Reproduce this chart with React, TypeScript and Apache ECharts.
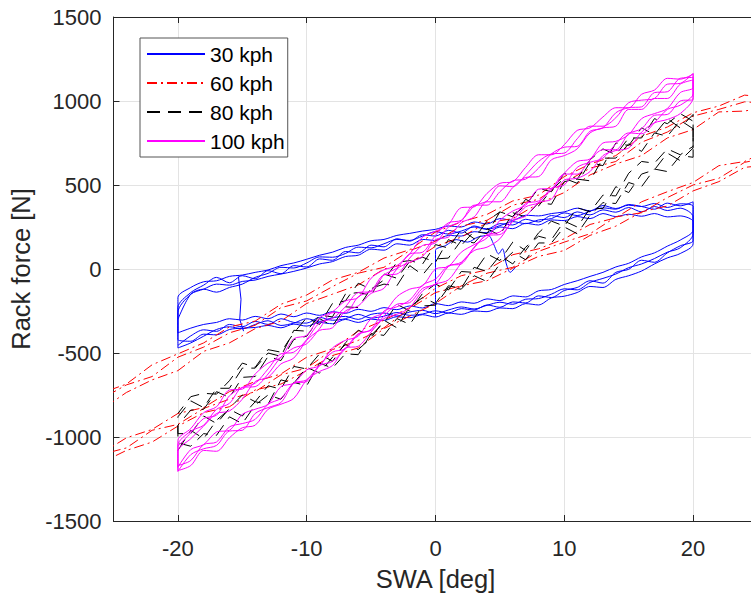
import React, { useEffect, useRef } from "react";
import * as echarts from "echarts";

const legendNames = ["30 kph", "60 kph", "80 kph", "100 kph"];
const xTickValues = [-20, -10, 0, 10, 20];

// steering-angle sample grids (deg)
const swa20 = [-20,-19,-18,-17,-16,-15,-14,-13,-12,-11,-10,-9,-8,-7,-6,-5,-4,-3,-2,-1,0,1,2,3,4,5,6,7,8,9,10,11,12,13,14,15,16,17,18,19,20];
const swa28 = [-28,-26,-24,-22,-20,-18,-16,-14,-12,-10,-8,-6,-4,-2,0,2,4,6,8,10,12,14,16,18,20,22,24,26,28];

// 30 kph: rack force on increasing sweep (Up, -20..20) and decreasing sweep (Down, 20..-20)
const b1Up = [-455,-398,-362,-371,-330,-344,-312,-330,-296,-318,-322,-288,-305,-296,-270,-292,-281,-259,-276,-268,-249,-262,-236,-244,-214,-228,-196,-202,-160,-170,-128,-110,-70,-84,-20,-2,52,40,96,138,170];
const b1Down = [310,362,348,372,340,366,338,352,322,340,306,318,280,296,262,270,238,256,214,230,196,204,166,180,132,142,96,104,52,60,12,20,-28,-10,-58,-40,-82,-50,-96,-140,-230];
const b2Up = [-420,-430,-388,-392,-360,-352,-348,-336,-350,-328,-340,-318,-326,-300,-318,-298,-306,-284,-290,-272,-286,-262,-270,-250,-254,-232,-236,-206,-214,-172,-162,-140,-104,-110,-62,-40,-12,30,66,92,150];
const b2Down = [372,388,366,390,372,380,360,378,346,362,340,330,316,320,290,300,268,280,250,256,236,226,212,200,176,168,142,128,100,82,58,36,20,-6,-20,-36,-44,-70,-76,-110,-170];
const b3Up = [-380,-352,-330,-318,-296,-304,-282,-296,-268,-284,-262,-276,-254,-264,-240,-252,-230,-242,-220,-232,-206,-218,-196,-204,-178,-188,-160,-166,-130,-122,-92,-70,-44,-20,12,34,72,96,136,172,230];
const b3Down = [282,316,310,330,314,326,312,330,300,312,288,292,262,272,240,250,216,222,196,200,170,176,142,150,112,118,82,74,44,30,6,-14,-30,-44,-66,-74,-96,-90,-120,-150,-260];
const b4Up = [-470,-440,-400,-360,-344,-356,-330,-308,-336,-322,-296,-312,-290,-282,-300,-270,-262,-280,-256,-246,-266,-244,-226,-238,-216,-198,-210,-180,-176,-150,-118,-124,-80,-56,-30,8,30,62,100,126,210];
const b4Down = [400,376,392,356,372,384,356,364,344,318,334,300,292,270,282,258,236,250,226,208,222,196,170,176,150,126,130,92,70,72,36,6,10,-26,-50,-90,-110,-138,-120,-150,-300];
const bStartSwa = [0,0,0,0.8,1.6,2.5,3.3,4.1,4.5,4.9,5.2,5.5,5.8,6.2];
const bStartForce = [-285,-100,110,140,175,160,190,200,150,90,120,30,-20,10];
const bJumpSwa = [-15.3,-15.1,-15.2,-14.9];
const bJumpForce = [-45,-180,-300,-370];

// 60 kph (grid swa28)
const r1Up = [-1190,-1105,-1065,-960,-925,-830,-775,-730,-630,-590,-480,-425,-350,-235,-140,-100,-25,10,105,160,210,310,335,425,500,540,635,665,720];
const r1Down = [1020,985,995,950,910,815,755,640,600,515,415,380,290,255,165,110,10,-25,-105,-190,-230,-335,-380,-465,-525,-640,-690,-775,-865];
const r2Up = [-1140,-1100,-1005,-955,-860,-825,-730,-670,-625,-525,-475,-370,-305,-230,-115,-40,-5,85,120,180,265,305,400,460,515,615,640,715,740];
const r2Down = [955,970,940,935,830,780,675,625,560,455,390,300,275,190,135,35,0,-95,-150,-205,-310,-355,-440,-490,-605,-660,-735,-840,-875];
const r3Up = [-1195,-1155,-1080,-1030,-935,-855,-820,-720,-685,-605,-515,-470,-355,-280,-205,-100,-70,5,75,110,200,255,340,375,465,520,605,620,690];
const r3Down = [1045,1020,1035,970,930,845,790,675,625,550,440,405,325,280,220,115,65,-20,-65,-155,-210,-310,-345,-440,-505,-570,-685,-740,-825];

// 80 kph
const k1Up = [-1080,-960,-1010,-900,-835,-875,-790,-805,-660,-680,-585,-620,-525,-450,-480,-410,-305,-350,-225,-170,-205,-100,-115,10,-15,80,30,130,195,175,285,250,360,360,490,455,565,590,690,645,720];
const k1Down = [920,840,895,800,840,735,750,615,635,510,540,470,375,415,310,340,210,225,140,175,40,70,45,-55,-30,-155,-140,-150,-285,-275,-370,-365,-520,-500,-590,-590,-710,-710,-825,-785,-880];
const k2Up = [-980,-980,-875,-920,-830,-750,-790,-695,-715,-580,-595,-505,-550,-440,-365,-395,-320,-210,-250,-145,-90,-125,-15,-20,90,50,160,110,215,285,255,365,340,440,435,570,640,630,715,680,730];
const k2Down = [835,885,790,810,700,745,660,660,525,535,520,385,395,310,335,200,240,155,170,65,60,-35,20,-100,-90,-115,-230,-225,-340,-295,-400,-420,-545,-520,-640,-645,-765,-730,-835,-840,-930];
const k3Up = [-1035,-1055,-980,-990,-880,-920,-810,-750,-775,-675,-695,-560,-590,-505,-510,-385,-395,-295,-330,-220,-215,-110,-120,-40,-75,30,100,55,155,155,250,210,320,395,390,515,490,595,580,675,665];
const k3Down = [880,925,865,895,780,780,680,715,650,535,570,460,480,380,315,340,285,180,235,125,145,30,50,40,-65,-120,-85,-190,-205,-330,-290,-380,-495,-480,-585,-560,-665,-745,-740,-760,-860];

// 100 kph
const m1Up = [-1170,-1140,-1045,-1030,-940,-920,-895,-805,-770,-680,-670,-575,-495,-475,-390,-360,-250,-225,-185,-95,-60,20,30,130,205,220,305,390,405,470,565,565,650,710,710,805,835,915,920,1000,1010];
const m1Down = [1140,1135,1055,1050,965,960,930,840,820,730,725,685,600,535,525,460,380,380,285,250,155,140,65,-30,-35,-130,-165,-260,-260,-355,-445,-470,-525,-625,-700,-705,-800,-835,-930,-965,-1050];
const m2Up = [-1180,-1075,-1045,-970,-960,-865,-835,-805,-700,-680,-600,-575,-470,-425,-400,-295,-260,-165,-120,-100,0,15,100,145,185,290,345,380,475,480,570,640,655,750,760,800,895,925,955,1050,1080];
const m2Down = [1160,1130,1135,1065,1040,960,960,905,840,825,740,680,680,605,520,510,450,370,365,265,225,190,90,20,-5,-55,-170,-190,-255,-290,-395,-415,-525,-560,-625,-715,-720,-820,-855,-950,-1020];
const m3Up = [-1200,-1170,-1080,-1085,-1005,-945,-930,-835,-805,-770,-660,-610,-575,-470,-460,-375,-295,-270,-230,-130,-90,-65,35,110,130,180,285,315,395,415,530,540,580,675,705,720,815,870,890,925,1020];
const m3Down = [1125,1100,1015,1015,950,950,850,840,810,715,675,650,550,545,485,400,400,310,275,190,175,75,40,0,-115,-145,-220,-250,-350,-365,-425,-530,-565,-645,-670,-775,-845,-860,-935,-1010,-1085];
const m4Up = [-1205,-1105,-1070,-1050,-965,-960,-860,-825,-795,-680,-660,-575,-550,-475,-385,-365,-280,-210,-200,-115,-90,15,40,125,200,205,285,370,395,480,500,605,635,660,745,810,805,870,950,975,1045];
const m4Down = [1165,1105,1100,1015,1005,990,900,850,850,775,690,685,640,560,490,495,405,375,290,275,200,100,90,5,-35,-135,-140,-225,-295,-320,-420,-495,-505,-595,-680,-705,-755,-870,-890,-975,-1055];

function loop(grid: number[], up: number[], down: number[]): number[][] {
  const pts: number[][] = [];
  grid.forEach((x, i) => pts.push([x, up[i]]));
  const rev = [...grid].reverse();
  rev.forEach((x, i) => pts.push([x, down[i]]));
  return pts;
}
function zipPts(xs: number[], ys: number[]): number[][] {
  return xs.map((x, i) => [x, ys[i]]);
}

const TXT = "#262626";
const FONT = "'Liberation Sans', Arial, Helvetica, sans-serif";

export default function App() {
  const ref = useRef<HTMLDivElement>(null);
  useEffect(() => {
    if (!ref.current) return;
    const chart = echarts.init(ref.current, undefined, { renderer: "svg" });

    const blue = { color: "#0000ff", width: 1, type: "solid" as any };
    const red = { color: "#ff0000", width: 1, type: [10, 4, 2, 4] as any };
    const black = { color: "#000000", width: 1, type: [13, 8] as any };
    const magenta = { color: "#ff00ff", width: 1, type: "solid" as any };

    const mk = (name: string, data: number[][], ls: any, smooth: number | boolean = false) => ({
      type: "line",
      name,
      data,
      symbol: "none",
      showSymbol: false,
      smooth,
      clip: true,
      silent: true,
      lineStyle: ls,
      itemStyle: { color: ls.color },
      xAxisIndex: 0,
      yAxisIndex: 0,
    });

    const blueData = [
      ...loop(swa20, b1Up, b1Down),
      ...loop(swa20, b2Up, b2Down),
      ...loop(swa20, b3Up, b3Down),
      ...loop(swa20, b4Up, b4Down),
    ];
    const redData = [
      ...loop(swa28, r1Up, r1Down),
      ...loop(swa28, r2Up, r2Down),
      ...loop(swa28, r3Up, r3Down),
    ];
    const blackData = [
      ...loop(swa20, k1Up, k1Down),
      ...loop(swa20, k2Up, k2Down),
      ...loop(swa20, k3Up, k3Down),
    ];
    const magData = [
      ...loop(swa20, m1Up, m1Down),
      ...loop(swa20, m2Up, m2Down),
      ...loop(swa20, m3Up, m3Down),
      ...loop(swa20, m4Up, m4Down),
    ];

    const axisLine = { show: true, onZero: false, lineStyle: { color: TXT, width: 1 } };
    const tick = { show: true, inside: true, length: 6, lineStyle: { color: TXT, width: 1 } };
    const plain = (v: number) => String(v);

    chart.setOption({
      animation: false,
      backgroundColor: "#ffffff",
      textStyle: { fontFamily: FONT },
      grid: { left: 113.5, right: 0.5, top: 17, bottom: 79, containLabel: false },
      legend: {
        data: legendNames,
        orient: "vertical",
        left: 140,
        top: 38,
        padding: [5, 3, 5, 6],
        itemGap: 7,
        itemWidth: 58,
        itemHeight: 14,
        backgroundColor: "#ffffff",
        borderColor: "#555555",
        borderWidth: 1,
        borderRadius: 0,
        selectedMode: false,
        itemStyle: { opacity: 0 },
        textStyle: { fontSize: 21, color: "#000000", fontFamily: FONT, lineHeight: 22 },
      },
      xAxis: [
        {
          type: "value",
          min: -25,
          max: 25,
          position: "bottom",
          name: "SWA [deg]",
          nameLocation: "middle",
          nameGap: 45,
          nameTextStyle: { fontSize: 25.5, color: TXT, fontFamily: FONT },
          axisLine,
          axisTick: { ...tick, customValues: xTickValues },
          axisLabel: { customValues: xTickValues, fontSize: 22, color: TXT, margin: 16, fontFamily: FONT, formatter: plain },
          splitLine: { show: true, lineStyle: { color: "#e3e3e3", width: 1 } },
        },
        {
          type: "value",
          min: -25,
          max: 25,
          position: "top",
          axisLine,
          axisTick: { ...tick, customValues: xTickValues },
          axisLabel: { show: false },
          splitLine: { show: false },
        },
      ],
      yAxis: [
        {
          type: "value",
          min: -1500,
          max: 1500,
          interval: 500,
          position: "left",
          name: "Rack force [N]",
          nameLocation: "middle",
          nameGap: 78,
          nameTextStyle: { fontSize: 25.5, color: TXT, fontFamily: FONT },
          axisLine,
          axisTick: tick,
          axisLabel: { fontSize: 22, color: TXT, margin: 12, fontFamily: FONT, formatter: plain },
          splitLine: { show: true, lineStyle: { color: "#e3e3e3", width: 1 } },
        },
        {
          type: "value",
          min: -1500,
          max: 1500,
          interval: 500,
          position: "right",
          axisLine,
          axisTick: tick,
          axisLabel: { show: false },
          splitLine: { show: false },
        },
      ],
      series: [
        mk("30 kph", blueData, blue, 0.3),
        mk("30 kph", zipPts(bStartSwa, bStartForce), blue, 0.3),
        mk("30 kph", zipPts(bJumpSwa, bJumpForce), blue),
        mk("60 kph", redData, red),
        mk("80 kph", blackData, black),
        mk("100 kph", magData, magenta, 0.3),
      ],
    });
    return () => chart.dispose();
  }, []);

  return (
    <div style={{ position: "absolute", left: 0, top: 0, width: 751, height: 600, overflow: "hidden", background: "#fff" }}>
      <div ref={ref} style={{ width: 758, height: 600 }} />
    </div>
  );
}
